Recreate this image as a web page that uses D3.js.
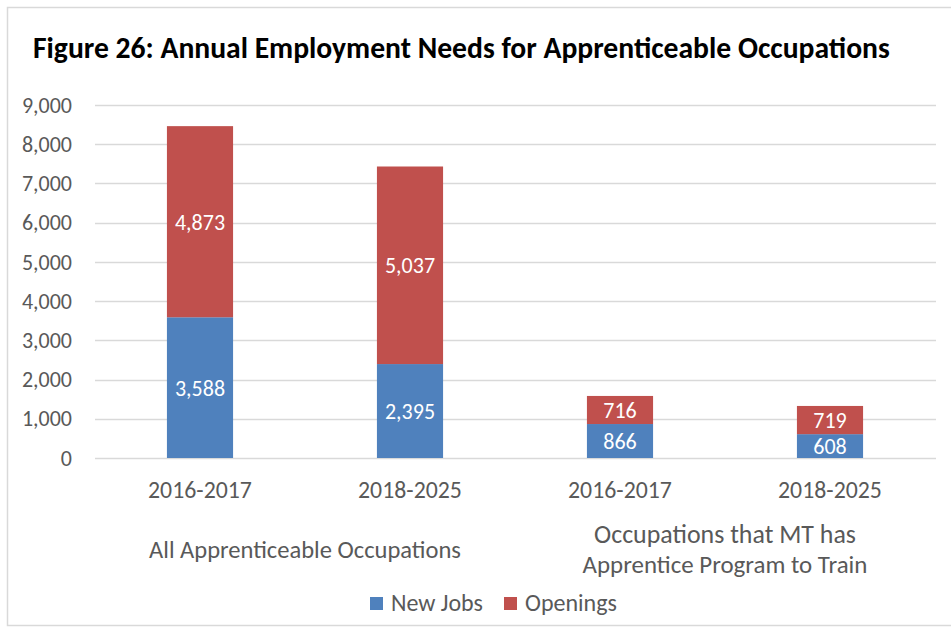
<!DOCTYPE html>
<html>
<head>
<meta charset="utf-8">
<script src="https://cdn.jsdelivr.net/npm/d3@7"></script>
<style>
  body { margin: 0; background: #fff; }
  text { font-family: Carlito, Calibri, "Open Sans", sans-serif; }
</style>
</head>
<body>
<script>
var categories = ['2016-2017', '2018-2025', '2016-2017', '2018-2025'];
var groups = [
  { name: ['All Apprenticeable Occupations'], from: 0, to: 1 },
  { name: ['Occupations that MT has', 'Apprentice Program to Train'], from: 2, to: 3 }
];
var newJobs = [3588, 2395, 866, 608];
var openings = [4873, 5037, 716, 719];
var seriesNames = ['New Jobs', 'Openings'];
var colors = ['#4f81bd', '#c0504d'];
var yTicks = [0, 1000, 2000, 3000, 4000, 5000, 6000, 7000, 8000, 9000];

var width = 951, height = 627;

var svg = d3.select('body').append('svg')
  .attr('width', width)
  .attr('height', height);

// frame
svg.append('rect')
  .attr('x', 7.5).attr('y', 7.5)
  .attr('width', width + 10).attr('height', 618)
  .attr('fill', 'none')
  .attr('stroke', '#d9d9d9')
  .attr('stroke-width', 1.5);

// scale a text's font size so it spans w pixels
function fit(sel, w) {
  sel.each(function() {
    var t = d3.select(this);
    var fs = parseFloat(t.style('font-size'));
    var len = this.getComputedTextLength();
    t.style('font-size', (fs * w / len) + 'px');
  });
}

svg.append('text')
  .attr('x', 33).attr('y', 58)
  .style('font-size', '25px')
  .style('font-weight', 'bold')
  .attr('fill', '#000')
  .text('Figure 26: Annual Employment Needs for Apprenticeable Occupations')
  .call(fit, 857);

var x = d3.scaleBand()
  .domain(d3.range(categories.length))
  .range([95, 935])
  .paddingInner(0.685)
  .paddingOuter(0.3425);

var y = d3.scaleLinear()
  .domain([0, 9000])
  .range([458, 105]);

// gridlines
svg.append('g')
  .selectAll('line')
  .data(yTicks)
  .join('line')
  .attr('x1', 95).attr('x2', 936)
  .attr('y1', function(d) { return Math.round(y(d)) + 0.5; })
  .attr('y2', function(d) { return Math.round(y(d)) + 0.5; })
  .attr('stroke', '#d9d9d9')
  .attr('stroke-width', 1.3);

var fmt = d3.format(',');

svg.append('g')
  .selectAll('text')
  .data(yTicks)
  .join('text')
  .attr('x', 72)
  .attr('y', function(d) { return y(d); })
  .attr('dy', '0.35em')
  .attr('text-anchor', 'end')
  .attr('fill', '#595959')
  .style('font-size', '22px')
  .text(function(d) { return fmt(d); });

var stacked = d3.stack().keys([0, 1])(categories.map(function(c, i) {
  return [newJobs[i], openings[i]];
}));

var layers = svg.append('g')
  .selectAll('g')
  .data(stacked)
  .join('g')
  .attr('fill', function(d, i) { return colors[i]; });

layers.selectAll('rect')
  .data(function(d) { return d; })
  .join('rect')
  .attr('x', function(d, i) { return x(i); })
  .attr('width', x.bandwidth())
  .attr('y', function(d) { return y(d[1]); })
  .attr('height', function(d) { return y(d[0]) - y(d[1]); });

layers.selectAll('text')
  .data(function(d) { return d; })
  .join('text')
  .attr('x', function(d, i) { return x(i) + x.bandwidth() / 2; })
  .attr('y', function(d) { return (y(d[0]) + y(d[1])) / 2; })
  .attr('dy', '0.36em')
  .attr('text-anchor', 'middle')
  .attr('fill', '#fff')
  .style('font-size', '22px')
  .text(function(d) { return fmt(d[1] - d[0]); });

// category labels
svg.append('g')
  .selectAll('text')
  .data(categories)
  .join('text')
  .attr('x', function(d, i) { return x(i) + x.bandwidth() / 2; })
  .attr('y', 498)
  .attr('text-anchor', 'middle')
  .attr('fill', '#595959')
  .style('font-size', '22px')
  .text(function(d) { return d; })
  .call(fit, 104);

// group labels
var groupWidths = [[312], [262, 285]];
groups.forEach(function(g, gi) {
  var cx = (x(g.from) + x(g.to) + x.bandwidth()) / 2;
  var y0 = g.name.length > 1 ? 543 : 558;
  g.name.forEach(function(line, k) {
    svg.append('text')
      .attr('x', cx)
      .attr('y', y0 + k * 30)
      .attr('text-anchor', 'middle')
      .attr('fill', '#595959')
      .style('font-size', '22px')
      .text(line)
      .call(fit, groupWidths[gi][k]);
  });
});

// legend
var legendX = [370, 504];
var legend = svg.append('g')
  .selectAll('g')
  .data(seriesNames)
  .join('g')
  .attr('transform', function(d, i) { return 'translate(' + legendX[i] + ',597)'; });

legend.append('rect')
  .attr('width', 13).attr('height', 13)
  .attr('fill', function(d, i) { return colors[i]; });

legend.append('text')
  .attr('x', 21).attr('y', 6)
  .attr('dy', '0.35em')
  .attr('fill', '#595959')
  .style('font-size', '22px')
  .text(function(d) { return d; })
  .call(fit, 92);
</script>
</body>
</html>
